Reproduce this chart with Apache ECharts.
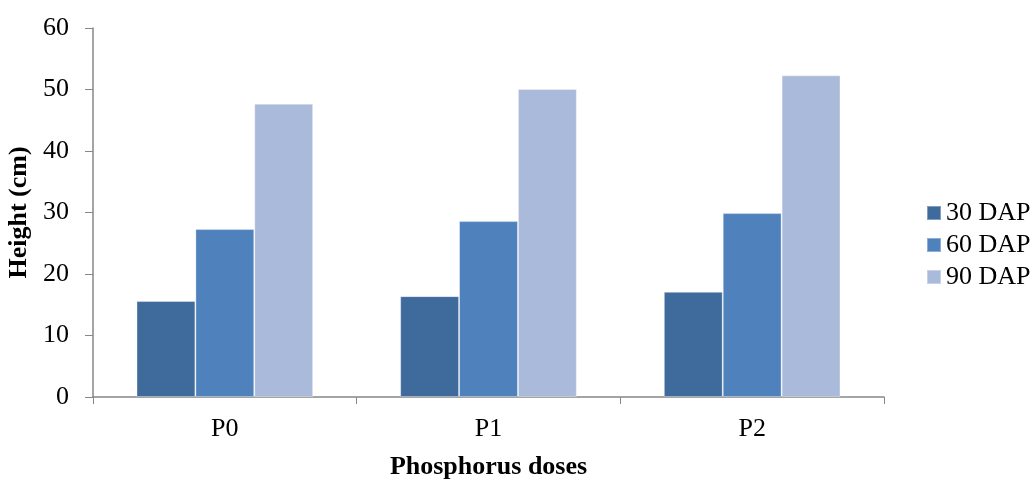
<!DOCTYPE html>
<html>
<head>
<meta charset="utf-8">
<script src="https://cdn.jsdelivr.net/npm/echarts@6/dist/echarts.min.js"></script>
<style>html,body{margin:0;padding:0;background:#fff;}#c{width:1035px;height:480px;}</style>
</head>
<body>
<div id="c"></div>
<script>
const categories = ['P0', 'P1', 'P2'];
const seriesNames = ['30 DAP', '60 DAP', '90 DAP'];
const dap30 = [15.6, 16.4, 17.1];
const dap60 = [27.3, 28.6, 29.9];
const dap90 = [47.7, 50.1, 52.3];
const yTicks = [0, 10, 20, 30, 40, 50, 60];

const colors = ['#3F6A9C', '#4F81BD', '#AABADA'];
const font = '"Liberation Serif", "Times New Roman", serif';
const chart = echarts.init(document.getElementById('c'), null, {renderer: 'canvas'});
const values = [dap30, dap60, dap90];
chart.setOption({
  animation: false,
  backgroundColor: '#fff',
  grid: {left: 93, right: 151, top: 28, bottom: 83, containLabel: false, outerBoundsMode: 'none'},
  legend: {
    orient: 'vertical', left: 926, top: 200, padding: 0,
    itemWidth: 14, itemHeight: 14, itemGap: 6,
    icon: 'rect',
    textStyle: {fontFamily: font, fontSize: 26, color: '#000'},
    data: seriesNames
  },
  xAxis: {
    type: 'category', data: categories,
    axisLine: {lineStyle: {color: '#878787', width: 1.5}},
    axisTick: {show: true, length: 7, lineStyle: {color: '#878787'}},
    axisLabel: {fontFamily: font, fontSize: 26, color: '#000', margin: 19},
    name: 'Phosphorus doses', nameLocation: 'middle', nameGap: 57,
    nameTextStyle: {fontFamily: font, fontSize: 26, fontWeight: 'bold', color: '#000'}
  },
  yAxis: {
    type: 'value', min: yTicks[0], max: yTicks[yTicks.length-1], interval: 10,
    splitLine: {show: false},
    axisLine: {show: true, lineStyle: {color: '#878787', width: 1.5}},
    axisTick: {show: true, length: 8, lineStyle: {color: '#878787'}},
    axisLabel: {fontFamily: font, fontSize: 26, color: '#000', margin: 24},
    name: 'Height (cm)', nameLocation: 'middle', nameGap: 54, nameRotate: 90,
    nameTextStyle: {fontFamily: font, fontSize: 26, fontWeight: 'bold', color: '#000'}
  },
  series: seriesNames.map((n, i) => ({
    name: n, type: 'bar', data: values[i],
    barGap: '0%', barCategoryGap: '33%',
    itemStyle: {color: colors[i], borderColor: 'rgba(255,255,255,0.35)', borderWidth: 1}
  }))
});
</script>
</body>
</html>
